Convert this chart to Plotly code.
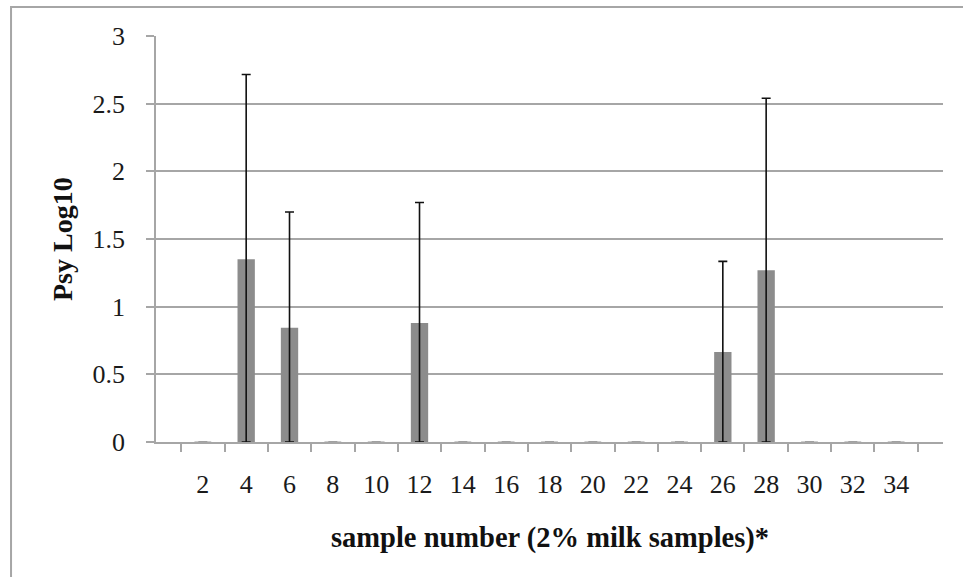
import plotly.graph_objects as go

samples = ["2", "4", "6", "8", "10", "12", "14", "16", "18", "20", "22", "24", "26", "28", "30", "32", "34"]
psy_log10 = [0, 1.35, 0.845, 0, 0, 0.88, 0, 0, 0, 0, 0, 0, 0.665, 1.27, 0, 0, 0]
upper_bound = [None, 2.715, 1.70, None, None, 1.77, None, None, None, None, None, None, 1.335, 2.54, None, None, None]
y_ticks = [0, 0.5, 1, 1.5, 2, 2.5, 3]

# error bar runs from the baseline up to the upper bound
err_plus = [(u - v) if u is not None else None for u, v in zip(upper_bound, psy_log10)]
err_minus = [v if u is not None else None for u, v in zip(upper_bound, psy_log10)]
zero_x = [s for s, v in zip(samples, psy_log10) if v == 0]
zero_y = [0 for v in psy_log10 if v == 0]

FONT = "Liberation Serif"

fig = go.Figure()
fig.add_trace(go.Bar(
    x=samples, y=psy_log10, width=0.4,
    marker=dict(color="#8c8c8c", line=dict(width=0)),
    error_y=dict(type="data", array=err_plus, symmetric=False,
                 arrayminus=err_minus,
                 color="#111111", thickness=1.6, width=4.5),
    hoverinfo="x+y", showlegend=False,
))
fig.add_trace(go.Scatter(
    x=zero_x, y=zero_y, mode="markers",
    marker=dict(symbol="line-ew", size=12, line=dict(color="#bdbdbd", width=1.5)),
    showlegend=False, hoverinfo="skip",
))

fig.update_layout(
    width=963, height=577,
    margin=dict(l=156, r=20, t=36, b=135),
    paper_bgcolor="white", plot_bgcolor="white",
    font=dict(family=FONT, size=26, color="#1a1a1a"),
    xaxis=dict(
        type="category", tickson="boundaries", ticks="outside", ticklen=8,
        tickcolor="#a6a6a6", tickwidth=1.5, showline=True, linecolor="#a6a6a6",
        linewidth=1.5, showgrid=False, ticklabelstandoff=18,
        tickfont=dict(family=FONT, size=26, color="#1a1a1a"),
    ),
    yaxis=dict(
        range=[0, 3], tickvals=y_ticks, ticktext=[f"{t:g}" for t in y_ticks],
        ticks="outside", ticklen=8, tickcolor="#a6a6a6", tickwidth=1.5,
        showline=True, linecolor="#a6a6a6", linewidth=1.5,
        showgrid=True, gridcolor="#a6a6a6", gridwidth=1.5, zeroline=False,
        ticklabelstandoff=16,
        tickfont=dict(family=FONT, size=26, color="#1a1a1a"),
    ),
    annotations=[
        dict(text="<b>sample number (2% milk samples)*</b>", xref="paper", yref="paper",
             x=0.5, y=-0.237, xanchor="center", yanchor="middle", showarrow=False,
             font=dict(family=FONT, size=28.5, color="#111111")),
        dict(text="<b>Psy Log10</b>", xref="paper", yref="paper", textangle=-90,
             x=-0.1194, y=0.5, xanchor="center", yanchor="middle", showarrow=False,
             font=dict(family=FONT, size=28, color="#111111")),
    ],
    shapes=[
        dict(type="rect", xref="paper", yref="paper",
             x0=-0.1842, x1=1.05, y0=-0.4, y1=1.0715,
             line=dict(color="#a6a6a6", width=2), fillcolor="rgba(0,0,0,0)", layer="below"),
    ],
)

fig.write_html("out.html", config={"displayModeBar": False},
               post_script="document.body.style.margin='0';")
